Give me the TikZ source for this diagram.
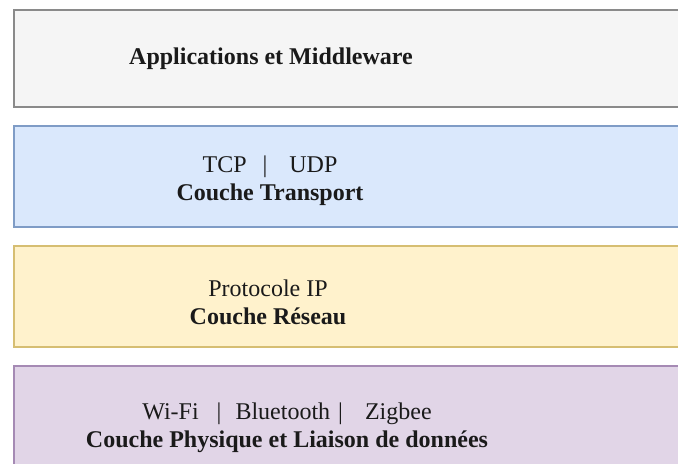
\documentclass[tikz,border=0pt]{standalone}
\usepackage{fontspec}
\setmainfont{Liberation Serif}
\usepackage{xcolor}
\usepackage{tikz}
\usetikzlibrary{positioning}
\definecolor{appfill}{HTML}{F5F5F5}
\definecolor{appline}{HTML}{8A8A8A}
\definecolor{transfill}{HTML}{DAE8FC}
\definecolor{transline}{HTML}{7F9CC6}
\definecolor{netfill}{HTML}{FFF2CC}
\definecolor{netline}{HTML}{D6BE72}
\definecolor{phyfill}{HTML}{E1D5E7}
\definecolor{phyline}{HTML}{A58AB4}
\definecolor{ink}{HTML}{1A1A1A}
\tikzset{
  layerbox/.style 2 args={
    rectangle, draw=#1, fill=#2, line width=0.8pt,
    minimum width=338pt, minimum height=50.5pt,
    inner sep=0pt, outer sep=0pt
  },
  layertext/.style={
    font=\fontsize{12}{14}\selectfont, text=ink,
    align=center, inner sep=0pt
  },
}

\begin{document}
\begin{tikzpicture}[x=0.5pt, y=-0.5pt, node distance=9.5pt]
  \useasboundingbox (0,0) rectangle (678,464);
  % the four layers, from top to bottom
  \node[layerbox={appline}{appfill}, minimum height=48.5pt, anchor=north west] (app) at (14,10) {};
  \node[layerbox={transline}{transfill}, below=of app] (transport) {};
  \node[layerbox={netline}{netfill}, below=of transport] (reseau) {};
  \node[layerbox={phyline}{phyfill}, below=of reseau] (physique) {};
  % labels
  \node[layertext] (apptext) at (271,59) {\textbf{Applications et Middleware}};
  \node[layertext] (transtext) at (270,181) {TCP\hspace{8pt}|\hspace{11pt}UDP\\\textbf{Couche Transport}};
  \node[layertext] (nettext) at (268,302) {Protocole IP\\\textbf{Couche Réseau}};
  \node[layertext] (phytext) at (287,428) {Wi-Fi\hspace{9pt}|\hspace{7pt}Bluetooth\hspace{4pt}|\hspace{11pt}Zigbee\\\textbf{Couche Physique et Liaison de données}};
\end{tikzpicture}
\end{document}
